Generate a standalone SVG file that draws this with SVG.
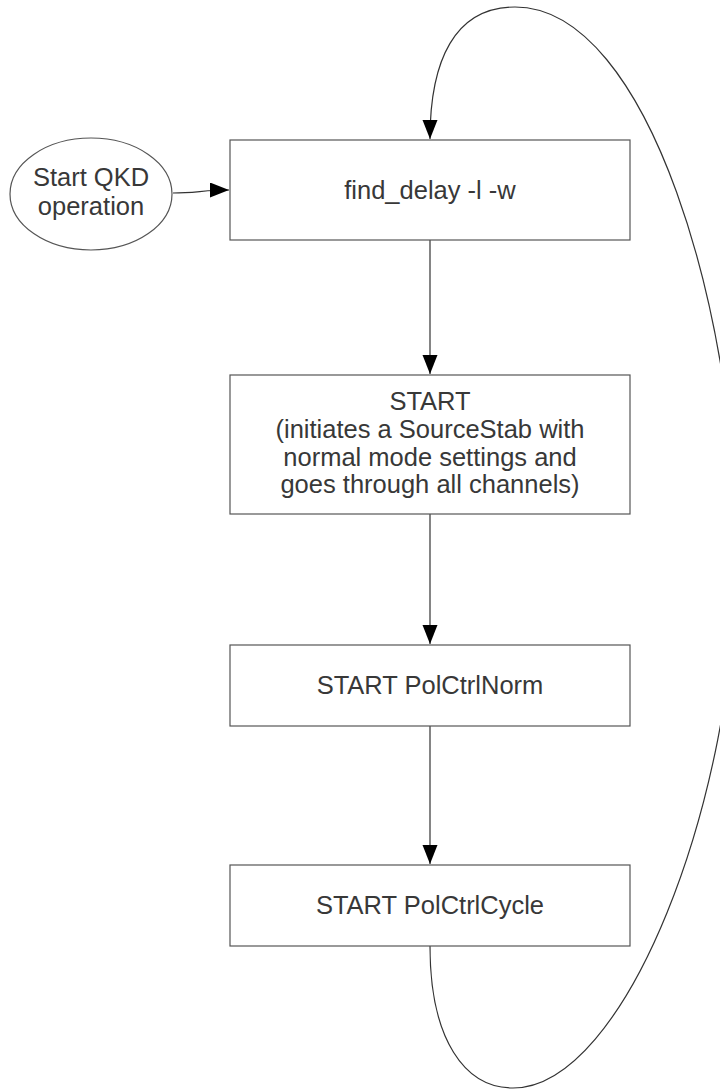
<svg xmlns="http://www.w3.org/2000/svg" width="720" height="1089" viewBox="0 0 720 1089">
  <style>
    .box { fill: #ffffff; stroke: #555555; stroke-width: 1.2; }
    .label { font-family: "Liberation Sans", Arial, sans-serif; font-size: 25.5px; fill: #383838; text-anchor: middle; }
    .edge { fill: none; stroke: #333333; stroke-width: 1.2; marker-end: url(#arrow); }
  </style>
  <defs>
    <marker id="arrow" markerUnits="userSpaceOnUse" markerWidth="20" markerHeight="16" refX="19" refY="7.5" orient="auto">
      <path d="M0,0 L19,7.5 L0,15 z" fill="#000000"/>
    </marker>
  </defs>
  <rect width="720" height="1089" fill="#ffffff"/>

  <g id="connectors">
    <path class="edge" d="M173,193 C195,193 205,190 229,190"/>
    <path class="edge" d="M430,240 L430,374"/>
    <path class="edge" d="M430,514 L430,644"/>
    <path class="edge" d="M430,726 L430,864"/>
    <path class="edge" d="M430,946 C430,1040 465,1088 513,1088 C625,1088 737,800 737,550 C737,320 650,7 515,7 C455,7 430,60 430,139"/>
  </g>

  <g id="start-qkd">
    <ellipse cx="91" cy="194" rx="81" ry="56" fill="#ffffff" stroke="#555555" stroke-width="1.2"/>
    <text class="label" x="91" y="186">Start QKD</text>
    <text class="label" x="91" y="215">operation</text>
  </g>

  <g id="find-delay">
    <rect class="box" x="230" y="140" width="400" height="100"/>
    <text class="label" x="430" y="199">find_delay -l -w</text>
  </g>

  <g id="start-sourcestab">
    <rect class="box" x="230" y="375" width="400" height="139"/>
    <text class="label" x="430" y="410">START</text>
    <text class="label" x="430" y="438">(initiates a SourceStab with</text>
    <text class="label" x="430" y="466">normal mode settings and</text>
    <text class="label" x="430" y="493">goes through all channels)</text>
  </g>

  <g id="start-polctrlnorm">
    <rect class="box" x="230" y="645" width="400" height="81"/>
    <text class="label" x="430" y="694">START PolCtrlNorm</text>
  </g>

  <g id="start-polctrlcycle">
    <rect class="box" x="230" y="865" width="400" height="81"/>
    <text class="label" x="430" y="914">START PolCtrlCycle</text>
  </g>
</svg>
